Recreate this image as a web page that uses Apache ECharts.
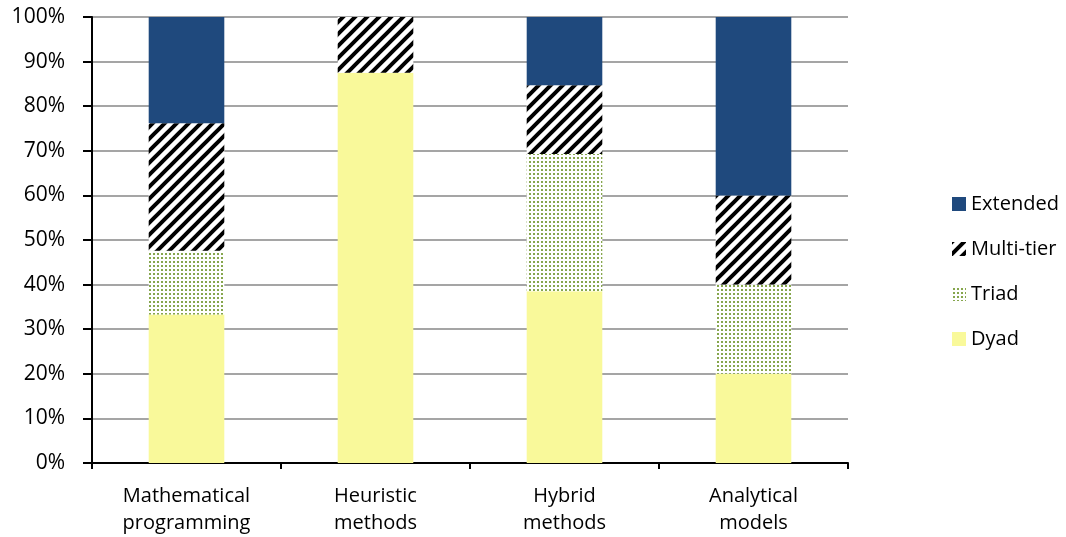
<!DOCTYPE html>
<html>
<head>
<meta charset="utf-8">
<script src="https://cdn.jsdelivr.net/npm/echarts@6/dist/echarts.min.js"></script>
<style>
html,body{margin:0;padding:0;background:#fff;}
#chart{width:1066px;height:537px;}
</style>
</head>
<body>
<div id="chart"></div>
<script>
var categories = ['Mathematical\nprogramming', 'Heuristic\nmethods', 'Hybrid\nmethods', 'Analytical\nmodels'];
var dyad = [33.3, 87.5, 38.5, 20];
var triad = [14.3, 0, 30.8, 20];
var multiTier = [28.6, 12.5, 15.4, 20];
var extended = [23.8, 0, 15.4, 40];
var yTicks = [0, 10, 20, 30, 40, 50, 60, 70, 80, 90, 100];

function stripePattern() {
  var c = document.createElement('canvas');
  c.width = 12; c.height = 12;
  var ctx = c.getContext('2d');
  ctx.fillStyle = '#ffffff';
  ctx.fillRect(0, 0, 12, 12);
  ctx.strokeStyle = '#000000';
  ctx.lineWidth = 4;
  ctx.beginPath();
  ctx.moveTo(-6, 6); ctx.lineTo(6, -6);
  ctx.moveTo(0, 12); ctx.lineTo(12, 0);
  ctx.moveTo(6, 18); ctx.lineTo(18, 6);
  ctx.stroke();
  return c;
}
function dotPattern() {
  var c = document.createElement('canvas');
  c.width = 4; c.height = 4;
  var ctx = c.getContext('2d');
  ctx.fillStyle = '#ffffff';
  ctx.fillRect(0, 0, 4, 4);
  ctx.fillStyle = '#86a64d';
  ctx.fillRect(1, 1, 2, 2);
  return c;
}

var font = '"Open Sans", Lato, "DejaVu Sans", sans-serif';
var chart = echarts.init(document.getElementById('chart'), null, {renderer: 'canvas'});
var option = {
  animation: false,
  backgroundColor: '#ffffff',
  grid: {left: 92, right: 218, top: 17, bottom: 74, containLabel: false},
  legend: {
    orient: 'vertical',
    left: 947,
    top: 189,
    itemWidth: 14,
    itemHeight: 14,
    itemGap: 25,
    icon: 'rect',
    data: ['Extended', 'Multi-tier', 'Triad', 'Dyad'],
    textStyle: {fontFamily: font, fontSize: 20, color: '#000', lineHeight: 20}
  },
  xAxis: {
    type: 'category',
    data: categories,
    axisLine: {lineStyle: {color: '#000', width: 2}},
    axisTick: {show: true, length: 6, lineStyle: {color: '#000', width: 2}},
    axisLabel: {fontFamily: font, fontSize: 20, color: '#000', lineHeight: 27, margin: 20, interval: 0}
  },
  yAxis: {
    type: 'value',
    min: 0, max: 100, interval: 10,
    axisLine: {show: true, lineStyle: {color: '#000', width: 2}},
    axisTick: {show: true, length: 9, lineStyle: {color: '#000', width: 2}},
    axisLabel: {fontFamily: font, fontSize: 21, color: '#000', margin: 27, padding: [4, 0, 0, 0],
      formatter: function (v) { return yTicks.indexOf(v) >= 0 ? v + '%' : ''; }},
    splitLine: {show: true, lineStyle: {color: '#878787', width: 1.5}}
  },
  series: [
    {name: 'Dyad', type: 'bar', stack: 's', barWidth: '40%', data: dyad,
     itemStyle: {color: '#f9f99a'}},
    {name: 'Triad', type: 'bar', stack: 's', barWidth: '40%', data: triad,
     itemStyle: {color: {image: dotPattern(), repeat: 'repeat'}}},
    {name: 'Multi-tier', type: 'bar', stack: 's', barWidth: '40%', data: multiTier,
     itemStyle: {color: {image: stripePattern(), repeat: 'repeat'}}},
    {name: 'Extended', type: 'bar', stack: 's', barWidth: '40%', data: extended,
     itemStyle: {color: '#1f497d'}}
  ]
};
chart.setOption(option);
</script>
</body>
</html>
